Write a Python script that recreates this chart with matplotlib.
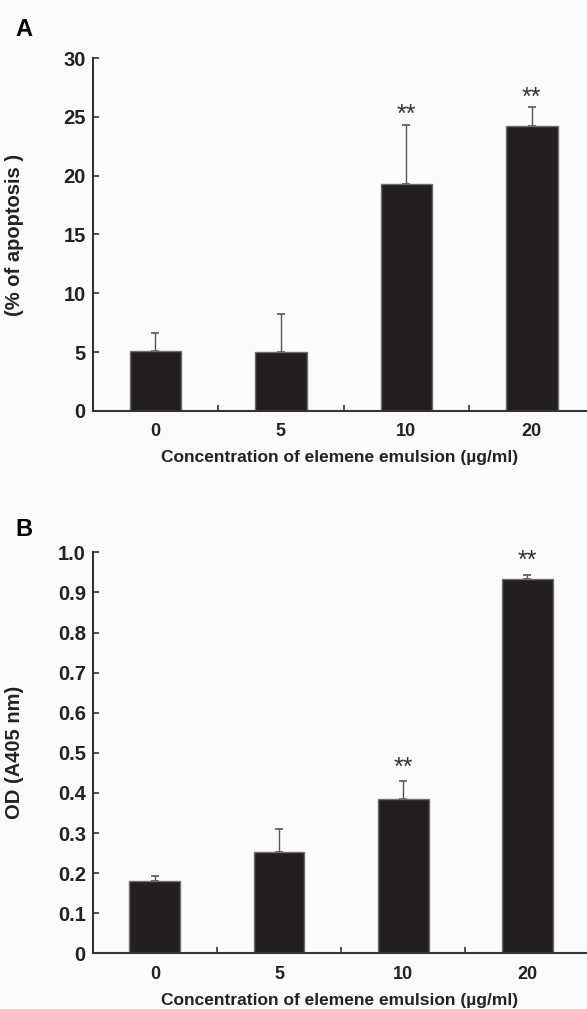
import numpy as np
import matplotlib
matplotlib.use("Agg")
import matplotlib.pyplot as plt

# data
concentrations = ["0", "5", "10", "20"]

apoptosis_mean = [5.1, 5.0, 19.3, 24.2]
apoptosis_err = [1.5, 3.25, 5.0, 1.6]
apoptosis_sig = ["", "", "**", "**"]

od_mean = [0.181, 0.252, 0.384, 0.933]
od_err = [0.013, 0.059, 0.045, 0.010]
od_sig = ["", "", "**", "**"]

plt.rcParams['font.family'] = ['Liberation Sans', 'DejaVu Sans']
plt.rcParams['font.weight'] = 'bold'

BARCOLOR = "#231f20"
EDGE = "#6e6e6e"
SPINE = "#333333"


###############################################################################
def drawpanel(ax, means, errs, sigs, ylim, yticks, yticklabels, ylabel, xmax, staroffset):
    x = np.arange(len(means))
    ax.bar(x, means, width=0.41, color=BARCOLOR, edgecolor=EDGE, linewidth=1.0, zorder=2)
    ax.errorbar(x, means, yerr=[np.zeros(len(errs)), errs], fmt='none', ecolor="#555555",
                elinewidth=1.0, capsize=3, capthick=1.2, zorder=1)
    for xi, m, e, s in zip(x, means, errs, sigs):
        if s:
            ax.annotate(s, (xi, m + e), xytext=(0, staroffset), textcoords='offset points',
                        ha='center', va='center', fontsize=18, color="#333333", fontweight='normal')

    ax.set_xlim(-0.5, xmax)
    ax.set_ylim(*ylim)
    ax.set_yticks(yticks)
    ax.set_yticklabels(yticklabels, fontsize=14.5, fontweight='bold', color="#222222")
    ax.set_xticks(x)
    ax.set_xticklabels(concentrations, fontsize=13, fontweight='bold', color="#222222")
    ax.set_xticks(x[:-1] + 0.5, minor=True)
    ax.tick_params(axis='x', which='major', length=0, pad=9)
    ax.tick_params(axis='x', which='minor', direction='in', length=4, width=1.2, color=SPINE)
    ax.tick_params(axis='y', direction='in', length=4, width=1.2, color=SPINE, pad=5)

    for side in ["top", "right"]:
        ax.spines[side].set_visible(False)
    for side in ["left", "bottom"]:
        ax.spines[side].set_color(SPINE)
        ax.spines[side].set_linewidth(1.5)

    ax.set_facecolor("none")
    ax.set_xlabel("Concentration of elemene emulsion (\u00b5g/ml)", fontsize=12.5,
                  fontweight='bold', color="#222222", labelpad=7)
    ax.set_ylabel(ylabel, fontsize=14.5, fontweight='bold', color="#222222", labelpad=8)


###############################################################################
def main():
    fig = plt.figure(figsize=(5.87, 10.09), dpi=100, facecolor="#fbfbfb")

    axa = fig.add_axes([0.158, 0.5927, 0.842, 0.3498])
    drawpanel(axa, apoptosis_mean, apoptosis_err, apoptosis_sig, (0, 30),
              [0, 5, 10, 15, 20, 25, 30], ["0", "5", "10", "15", "20", "25", "30"],
              "(% of apoptosis )", 3.44, 7)

    axb = fig.add_axes([0.158, 0.0552, 0.842, 0.3974])
    bticks = [0, 0.1, 0.2, 0.3, 0.4, 0.5, 0.6, 0.7, 0.8, 0.9, 1.0]
    drawpanel(axb, od_mean, od_err, od_sig, (0, 1.0),
              bticks, ["0"] + ["%.1f" % t for t in bticks[1:]],
              "OD (A405 nm)", 3.48, 10)

    fig.text(15 / 587, 1 - 29 / 1009, "A", fontsize=17, fontweight='bold', va='center', ha='left')
    fig.text(15 / 587, 1 - 530 / 1009, "B", fontsize=17, fontweight='bold', va='center', ha='left')

    # align y labels to the same x position as the reference
    for ax in (axa, axb):
        ax.yaxis.set_label_coords(-(93 - 24) / (0.842 * 587), 0.5)

    fig.savefig("out.png", dpi=100, facecolor=fig.get_facecolor())


if __name__ == "__main__":
    main()
